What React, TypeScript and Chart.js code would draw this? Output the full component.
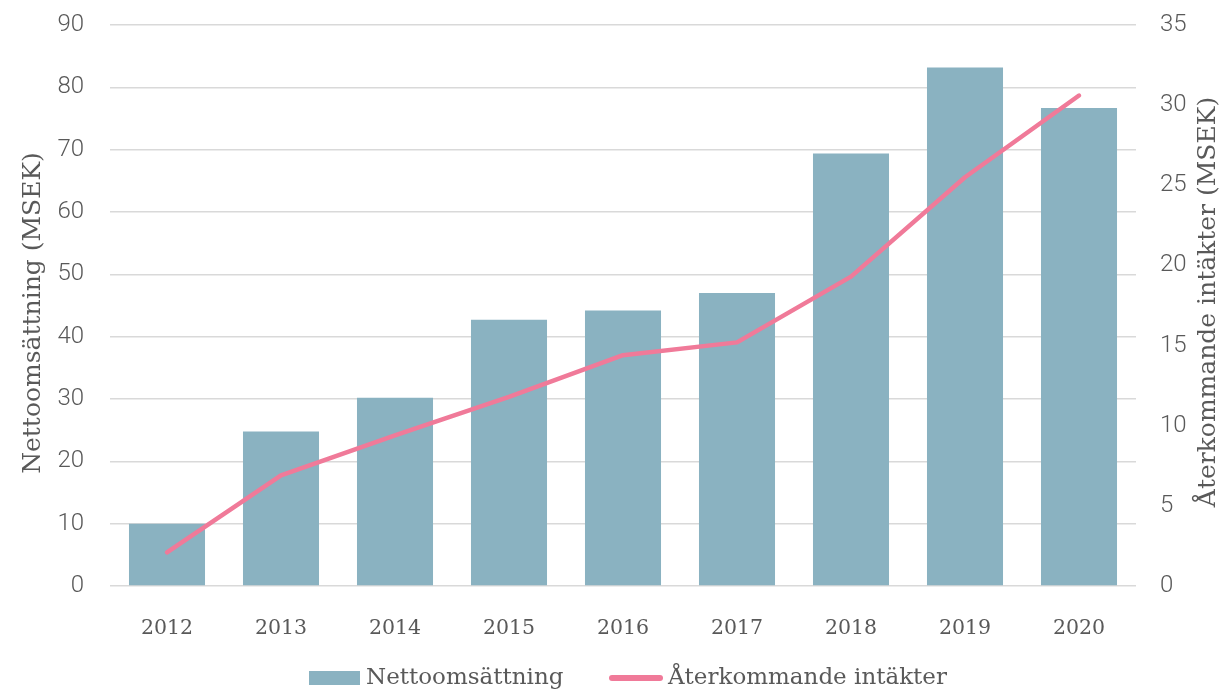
import React, { useEffect, useRef } from "react";
import { Chart, registerables } from "chart.js";

Chart.register(...registerables);

const years = ["2012", "2013", "2014", "2015", "2016", "2017", "2018", "2019", "2020"];
const nettoomsattning = [10, 24.8, 30.2, 42.7, 44.2, 47.0, 69.4, 83.2, 76.7];
const aterkommande = [2.1, 6.9, 9.4, 11.8, 14.4, 15.2, 19.3, 25.5, 30.6];
const leftTitle = "Nettoomsättning (MSEK)";
const rightTitle = "Återkommande intäkter (MSEK)";
const barLabel = "Nettoomsättning";
const lineLabel = "Återkommande intäkter";

const BAR_COLOR = "#8AB2C1";
const LINE_COLOR = "#F07A99";
const TEXT_COLOR = "#595959";
const SERIF = "'DejaVu Serif', serif";
const SANS = "Roboto, sans-serif";

const overlay = {
  id: "overlay",
  afterDraw(chart: any) {
    const ctx = chart.ctx;
    ctx.save();
    ctx.fillStyle = TEXT_COLOR;
    ctx.font = `300 25px ${SERIF}`;
    ctx.textAlign = "center";
    ctx.textBaseline = "middle";
    // left title
    ctx.save();
    ctx.translate(33, 313);
    ctx.rotate(-Math.PI / 2);
    ctx.fillText(leftTitle, 0, 0);
    ctx.restore();
    // right title
    ctx.save();
    ctx.translate(1208, 302);
    ctx.rotate(-Math.PI / 2);
    ctx.fillText(rightTitle, 0, 0);
    ctx.restore();
    // legend
    ctx.font = `300 23px ${SERIF}`;
    const ly = 678;
    ctx.fillStyle = BAR_COLOR;
    ctx.fillRect(309, 671, 51, 14);
    ctx.fillStyle = TEXT_COLOR;
    ctx.textAlign = "left";
    ctx.fillText(barLabel, 366, ly);
    ctx.strokeStyle = LINE_COLOR;
    ctx.lineWidth = 6;
    ctx.lineCap = "round";
    ctx.beginPath();
    ctx.moveTo(612, ly);
    ctx.lineTo(660, ly);
    ctx.stroke();
    ctx.fillText(lineLabel, 668, ly);
    ctx.restore();
  },
};

const zeroPad = (s: any) => {
  s.paddingTop = 0;
  s.paddingBottom = 0;
  s.paddingLeft = 0;
  s.paddingRight = 0;
};

export default function App() {
  const ref = useRef<HTMLCanvasElement>(null);
  useEffect(() => {
    document.body.style.margin = "0";
    const chart = new Chart(ref.current!, {
      type: "bar",
      data: {
        labels: years,
        datasets: [
          {
            type: "line",
            label: lineLabel,
            data: aterkommande,
            yAxisID: "y1",
            borderColor: LINE_COLOR,
            borderWidth: 4.5,
            pointRadius: 0,
            tension: 0,
            borderCapStyle: "round",
            borderJoinStyle: "round",
            order: 0,
          } as any,
          {
            type: "bar",
            label: barLabel,
            data: nettoomsattning,
            yAxisID: "y",
            backgroundColor: BAR_COLOR,
            barPercentage: 0.667,
            categoryPercentage: 1,
            order: 1,
          },
        ],
      },
      options: {
        animation: false,
        responsive: false,
        layout: { padding: { top: 25, bottom: 0, left: 0, right: 0 } },
        plugins: { legend: { display: false }, tooltip: { enabled: false } },
        scales: {
          x: {
            grid: { display: false },
            border: { display: false },
            ticks: { color: TEXT_COLOR, font: { family: SERIF, size: 20.5, weight: "300" }, padding: 22 },
            afterFit: (s: any) => { s.height = 104; zeroPad(s); },
          },
          y: {
            position: "left",
            min: 0,
            max: 90,
            ticks: { stepSize: 10, color: TEXT_COLOR, font: { family: SANS, size: 24, weight: "300" }, padding: 26 },
            grid: { color: "#D9D9D9", lineWidth: 1.5, drawTicks: false },
            border: { display: false },
            afterFit: (s: any) => { s.width = 110; zeroPad(s); },
          },
          y1: {
            position: "right",
            min: 0,
            max: 35,
            ticks: { stepSize: 5, color: TEXT_COLOR, font: { family: SANS, size: 24, weight: "300" }, padding: 24 },
            grid: { display: false, drawTicks: false },
            border: { display: false },
            afterFit: (s: any) => { s.width = 90; zeroPad(s); },
          },
        },
      },
      plugins: [overlay],
    });
    return () => chart.destroy();
  }, []);
  return (
    <div style={{ position: "absolute", left: 0, top: 0, width: 1226, height: 690 }}>
      <canvas ref={ref} width={1226} height={690} style={{ width: 1226, height: 690 }} />
    </div>
  );
}
